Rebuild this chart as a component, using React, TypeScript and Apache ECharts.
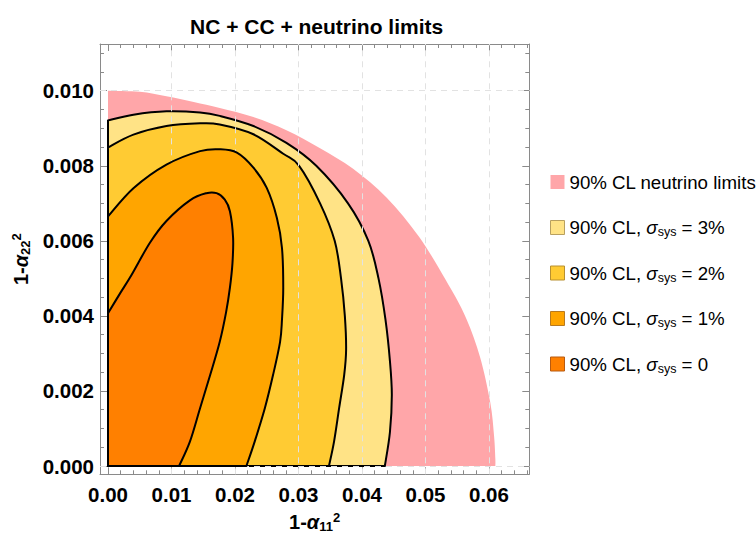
import React, { useEffect, useRef } from "react";
import * as echarts from "echarts";

const FONT = "'Liberation Sans', Arial, Helvetica, sans-serif";

// tick values
const xMajorTicks = [0, 0.01, 0.02, 0.03, 0.04, 0.05, 0.06];
const xMinorTicks = [
  0, 0.002, 0.004, 0.006, 0.008, 0.012, 0.014, 0.016, 0.018, 0.022, 0.024, 0.026, 0.028,
  0.032, 0.034, 0.036, 0.038, 0.042, 0.044, 0.046, 0.048, 0.052, 0.054, 0.056, 0.058,
  0.062, 0.064, 0.066,
];
const yMajorTicks = [0, 0.002, 0.004, 0.006, 0.008, 0.01];
const yMinorTicks = [
  0.0005, 0.001, 0.0015, 0.0025, 0.003, 0.0035, 0.0045, 0.005, 0.0055, 0.0065, 0.007,
  0.0075, 0.0085, 0.009, 0.0095, 0.0105, 0.011,
];

// region boundaries: from the x=0 edge round to the y=0 edge
const neutrinoLimit = [
  [0, 0.01], [0.005, 0.00997], [0.0092, 0.00985], [0.0135, 0.0097], [0.0176, 0.00954],
  [0.0229, 0.0093], [0.0281, 0.00895], [0.0334, 0.00847], [0.0386, 0.00792], [0.0439, 0.00715],
  [0.0491, 0.00608], [0.0539, 0.00475], [0.0565, 0.0039], [0.0586, 0.0029], [0.0602, 0.0017],
  [0.0608, 0.0008], [0.061, 0.0002], [0.061, 0],
];
const sys3 = [
  [0, 0.00921], [0.004, 0.00936], [0.0092, 0.00945], [0.0145, 0.00942], [0.0176, 0.00933],
  [0.0229, 0.00906], [0.0281, 0.00861], [0.0328, 0.008], [0.0378, 0.007], [0.041, 0.006],
  [0.0426, 0.005], [0.0437, 0.0039], [0.0444, 0.0028], [0.0447, 0.0019], [0.0444, 0.0009],
  [0.0436, 0],
];
const sys2 = [
  [0, 0.00849], [0.004, 0.00883], [0.0092, 0.00906], [0.0145, 0.00913], [0.0176, 0.0091],
  [0.0229, 0.00884], [0.0276, 0.00832], [0.0301, 0.008], [0.0334, 0.007], [0.0357, 0.006],
  [0.0367, 0.005], [0.0373, 0.004], [0.0375, 0.0031], [0.0372, 0.00243], [0.0364, 0.00154],
  [0.0356, 0.00065], [0.0348, 0],
];
const sys1 = [
  [0, 0.00665], [0.004, 0.0074], [0.0092, 0.00803], [0.0145, 0.00839], [0.0176, 0.00844],
  [0.0203, 0.00835], [0.0229, 0.00795], [0.025, 0.00741], [0.0266, 0.00661], [0.0274, 0.00581],
  [0.0276, 0.00475], [0.0274, 0.0039], [0.0271, 0.00331], [0.026, 0.00243], [0.0247, 0.00154],
  [0.0231, 0.00065], [0.0218, 0],
];
const sys0 = [
  [0, 0.00407], [0.0019, 0.0046], [0.0037, 0.00509], [0.0066, 0.00595], [0.0092, 0.00653],
  [0.0129, 0.00708], [0.0155, 0.00727], [0.0171, 0.00727], [0.0184, 0.0071], [0.0192, 0.00679],
  [0.0197, 0.00608], [0.0196, 0.0054], [0.0192, 0.00475], [0.0186, 0.0041], [0.0176, 0.00331],
  [0.0161, 0.00243], [0.0145, 0.00154], [0.0129, 0.00065], [0.0112, 0],
];

const seriesNames = [
  "90% CL neutrino limits",
  "90% CL, σsys = 3%",
  "90% CL, σsys = 2%",
  "90% CL, σsys = 1%",
  "90% CL, σsys = 0",
];

const regions = [
  { name: seriesNames[0], pts: neutrinoLimit, fill: "#ffa6a9", stroke: null, border: null },
  { name: seriesNames[1], pts: sys3, fill: "#ffe386", stroke: "#000", border: "#b8a060" },
  { name: seriesNames[2], pts: sys2, fill: "#ffcb33", stroke: "#000", border: "#b89030" },
  { name: seriesNames[3], pts: sys1, fill: "#ffa500", stroke: "#000", border: "#b87a20" },
  { name: seriesNames[4], pts: sys0, fill: "#ff8000", stroke: "#000", border: "#b85a10" },
];

const X_MIN = -0.00126;
const X_MAX = 0.06635;
const Y_MIN = -0.000221;
const Y_MAX = 0.011245;

const AXIS_COLOR = "#8a8a8a";

// region shape: straight edges along the axes, smooth (Catmull-Rom) along the contour
const SmoothRegion = (echarts as any).graphic.extendShape({
  shape: { points: [] as number[][], corner: [0, 0] },
  buildPath(ctx: any, shape: any) {
    const pts = shape.points;
    const c = shape.corner;
    if (!pts || !pts.length) return;
    ctx.moveTo(c[0], c[1]);
    ctx.lineTo(pts[0][0], pts[0][1]);
    for (let i = 0; i < pts.length - 1; i++) {
      const p0 = pts[i - 1] || pts[i];
      const p1 = pts[i];
      const p2 = pts[i + 1];
      const p3 = pts[i + 2] || pts[i + 1];
      const c1x = p1[0] + (p2[0] - p0[0]) / 6;
      const c1y = p1[1] + (p2[1] - p0[1]) / 6;
      const c2x = p2[0] - (p3[0] - p1[0]) / 6;
      const c2y = p2[1] - (p3[1] - p1[1]) / 6;
      ctx.bezierCurveTo(c1x, c1y, c2x, c2y, p2[0], p2[1]);
    }
    ctx.closePath();
  },
});
(echarts as any).graphic.registerShape("smoothRegion", SmoothRegion);

function xAxisDef(position: string, ticks: number[], len: number, labels: boolean, line: boolean) {
  return {
    type: "value",
    position,
    min: X_MIN,
    max: X_MAX,
    axisLine: { show: line, onZero: false, lineStyle: { color: AXIS_COLOR, width: 1 } },
    axisTick: { show: true, inside: true, length: len, customValues: ticks, lineStyle: { color: AXIS_COLOR, width: 1 } },
    axisLabel: labels
      ? {
          show: true,
          customValues: xMajorTicks,
          formatter: (v: number) => v.toFixed(2),
          fontSize: 20.5,
          fontWeight: "bold",
          fontFamily: FONT,
          color: "#000",
          margin: 10,
        }
      : { show: false },
    splitLine: { show: false },
  };
}

function yAxisDef(position: string, ticks: number[], len: number, labels: boolean, line: boolean) {
  return {
    type: "value",
    position,
    min: Y_MIN,
    max: Y_MAX,
    axisLine: { show: line, onZero: false, lineStyle: { color: AXIS_COLOR, width: 1 } },
    axisTick: { show: true, inside: true, length: len, customValues: ticks, lineStyle: { color: AXIS_COLOR, width: 1 } },
    axisLabel: labels
      ? {
          show: true,
          customValues: yMajorTicks,
          formatter: (v: number) => v.toFixed(3),
          fontSize: 20.5,
          fontWeight: "bold",
          fontFamily: FONT,
          color: "#000",
          margin: 6,
        }
      : { show: false },
    splitLine: { show: false },
  };
}

const nameRich = {
  a: { fontSize: 20, fontStyle: "italic", fontWeight: "bold", fontFamily: FONT, color: "#000", lineHeight: 22 },
  sub: { fontSize: 13, fontWeight: "bold", fontFamily: FONT, color: "#000", lineHeight: 10, verticalAlign: "bottom" },
  sup: { fontSize: 13, fontWeight: "bold", fontFamily: FONT, color: "#000", lineHeight: 10, verticalAlign: "top" },
};

export default function App() {
  const ref = useRef<HTMLDivElement>(null);
  useEffect(() => {
    if (!ref.current) return;
    const chart = echarts.init(ref.current, undefined, { renderer: "svg" });

    const xAxes: any[] = [
      xAxisDef("bottom", xMajorTicks, 7, true, true),
      xAxisDef("bottom", xMinorTicks, 4, false, false),
      xAxisDef("top", xMajorTicks, 7, false, true),
      xAxisDef("top", xMinorTicks, 4, false, false),
    ];
    xAxes[0].name = "1-{a|α}{sub|11}{sup|2}";
    xAxes[0].nameLocation = "middle";
    xAxes[0].nameGap = 37;
    xAxes[0].nameTextStyle = { fontSize: 20, fontWeight: "bold", fontFamily: FONT, color: "#000", lineHeight: 22, rich: nameRich };

    const yAxes: any[] = [
      yAxisDef("left", yMajorTicks, 7, true, true),
      yAxisDef("left", yMinorTicks, 4, false, false),
      yAxisDef("right", yMajorTicks, 7, false, true),
      yAxisDef("right", yMinorTicks, 4, false, false),
    ];
    yAxes[0].name = "1-{a|α}{sub|22}{sup|2}";
    yAxes[0].nameLocation = "middle";
    yAxes[0].nameRotate = 90;
    yAxes[0].nameGap = 60;
    yAxes[0].nameTextStyle = { fontSize: 20, fontWeight: "bold", fontFamily: FONT, color: "#000", lineHeight: 22, rich: nameRich };

    const gridSeries = {
      type: "line",
      name: "grid",
      data: [],
      z: 1,
      silent: true,
      xAxisIndex: 0,
      yAxisIndex: 0,
      markLine: {
        silent: true,
        symbol: ["none", "none"],
        label: { show: false },
        lineStyle: { color: "#e2e2e2", type: [6, 5], width: 1 },
        emphasis: { disabled: true },
        data: [
          ...xMajorTicks.filter((v) => v > 0).map((v) => ({ xAxis: v })),
          ...yMajorTicks.filter((v) => v > 0).map((v) => ({ yAxis: v })),
        ],
      },
    };

    const regionSeries = regions.map((r, i) => ({
      type: "custom",
      name: r.name,
      xAxisIndex: 0,
      yAxisIndex: 0,
      z: 2 + i,
      silent: true,
      itemStyle: { color: r.fill },
      data: r.pts,
      encode: { x: 0, y: 1 },
      renderItem: (params: any, api: any) => {
        if (params.dataIndex !== 0) return null;
        const points = r.pts.map((p) => api.coord(p));
        const corner = api.coord([0, 0]);
        return {
          type: "smoothRegion",
          shape: { points, corner },
          style: r.stroke
            ? { fill: r.fill, stroke: r.stroke, lineWidth: 2, lineJoin: "round" }
            : { fill: r.fill, stroke: null, lineWidth: 0 },
        };
      },
    }));

    chart.setOption({
      animation: false,
      backgroundColor: "#fff",
      title: {
        text: "NC + CC + neutrino limits",
        left: 185,
        top: 11,
        textStyle: { fontSize: 21, fontWeight: "bold", fontFamily: FONT, color: "#000" },
      },
      grid: {
        left: 100,
        top: 44,
        width: 429.3,
        height: 430.3,
        containLabel: false,
        outerBoundsMode: "none",
      },
      xAxis: xAxes,
      yAxis: yAxes,
      legend: {
        orient: "vertical",
        left: 545,
        top: 166,
        itemWidth: 14,
        itemHeight: 14,
        itemGap: 23.5,
        icon: "rect",
        selectedMode: false,
        data: regions.map((r) => ({
          name: r.name,
          itemStyle: r.border ? { borderColor: r.border, borderWidth: 1 } : { borderWidth: 0 },
        })),
        formatter: (n: string) => {
          const parts = n.split("σsys");
          if (parts.length === 1) return "{t|" + n + "}";
          return "{t|" + parts[0] + "}{s|σ}{sub|sys}{t|" + parts[1] + "}";
        },
        textStyle: {
          fontSize: 18.7,
          fontFamily: FONT,
          color: "#000",
          lineHeight: 22,
          rich: {
            t: { fontSize: 18.7, fontFamily: FONT, color: "#000", lineHeight: 22 },
            s: { fontSize: 18.7, fontStyle: "italic", fontFamily: FONT, color: "#000", lineHeight: 22 },
            sub: { fontSize: 12.5, fontFamily: FONT, color: "#000", lineHeight: 12, verticalAlign: "bottom" },
          },
        },
      },
      series: [gridSeries, ...regionSeries],
    });
    return () => chart.dispose();
  }, []);
  return <div ref={ref} style={{ position: "absolute", left: 0, top: 0, width: 756, height: 536 }} />;
}
